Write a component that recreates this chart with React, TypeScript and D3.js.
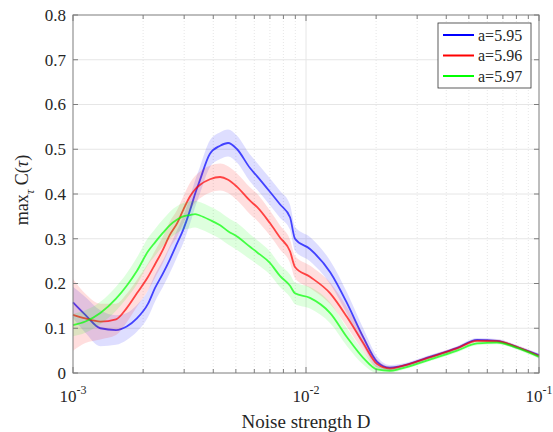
import React from "react";
import * as d3 from "d3";

// Noise strength D (x, log scale)
const noiseD = [
  0.001, 0.00113, 0.00131, 0.00153, 0.0017, 0.00188, 0.0021, 0.00225, 0.00243, 0.0026,
  0.0028, 0.00297, 0.00318, 0.00334, 0.0035, 0.00387, 0.00428, 0.00463, 0.00506, 0.00575,
  0.00616, 0.007, 0.00773, 0.00854, 0.00897, 0.0104, 0.0127, 0.015, 0.0176, 0.0202,
  0.0229, 0.0253, 0.034, 0.0445, 0.0542, 0.066, 0.0805, 0.1,
];

const blueVals = [
  0.158, 0.13, 0.1, 0.096, 0.104, 0.122, 0.155, 0.19, 0.222, 0.253,
  0.29, 0.32, 0.364, 0.4, 0.43, 0.49, 0.508, 0.514, 0.5, 0.458,
  0.44, 0.405, 0.377, 0.348, 0.3, 0.277, 0.225, 0.156, 0.08, 0.025,
  0.012, 0.015, 0.036, 0.056, 0.074, 0.072, 0.058, 0.04,
];
const blueErr = [
  0.035, 0.04, 0.04, 0.033, 0.03, 0.03, 0.03, 0.03, 0.03, 0.03,
  0.03, 0.03, 0.03, 0.03, 0.03, 0.03, 0.03, 0.03, 0.03, 0.03,
  0.03, 0.03, 0.03, 0.028, 0.027, 0.027, 0.026, 0.024, 0.02, 0.012,
  0.006, 0.005, 0.004, 0.004, 0.004, 0.004, 0.004, 0.004,
];

const redVals = [
  0.13, 0.122, 0.115, 0.12, 0.145, 0.178, 0.215, 0.243, 0.275, 0.308,
  0.335, 0.364, 0.395, 0.41, 0.42, 0.433, 0.438, 0.432, 0.416, 0.385,
  0.371, 0.335, 0.303, 0.272, 0.237, 0.215, 0.178, 0.125, 0.067, 0.02,
  0.01, 0.014, 0.035, 0.055, 0.072, 0.071, 0.058, 0.038,
];
const redErr = [
  0.08, 0.055, 0.04, 0.035, 0.032, 0.03, 0.03, 0.03, 0.03, 0.03,
  0.03, 0.03, 0.03, 0.03, 0.03, 0.03, 0.03, 0.03, 0.03, 0.03,
  0.03, 0.028, 0.027, 0.026, 0.025, 0.025, 0.024, 0.022, 0.018, 0.01,
  0.005, 0.004, 0.004, 0.004, 0.004, 0.004, 0.004, 0.004,
];

const greenVals = [
  0.107, 0.115, 0.134, 0.166, 0.195, 0.228, 0.272, 0.292, 0.313, 0.33,
  0.343, 0.35, 0.353, 0.355, 0.352, 0.342, 0.33, 0.317, 0.305, 0.282,
  0.27, 0.246, 0.217, 0.195, 0.178, 0.168, 0.134, 0.08, 0.034, 0.008,
  0.005, 0.009, 0.03, 0.05, 0.066, 0.068, 0.056, 0.036,
];
const greenErr = [
  0.025, 0.025, 0.025, 0.027, 0.028, 0.03, 0.03, 0.03, 0.03, 0.03,
  0.03, 0.03, 0.03, 0.03, 0.03, 0.03, 0.03, 0.03, 0.03, 0.028,
  0.027, 0.026, 0.025, 0.025, 0.024, 0.024, 0.023, 0.02, 0.015, 0.008,
  0.005, 0.004, 0.004, 0.004, 0.004, 0.004, 0.004, 0.004,
];

const seriesNames = ["a=5.95", "a=5.96", "a=5.97"];
const seriesColors = ["#0000ff", "#ff0000", "#00ff00"];
const yTicks = [0, 0.1, 0.2, 0.3, 0.4, 0.5, 0.6, 0.7, 0.8];
const xMajorTicks = [1e-3, 1e-2, 1e-1];
const xTickExps = ["-3", "-2", "-1"];

const W = 553;
const H = 432;
const M = { left: 73, right: 539, top: 15, bottom: 373 };
const FONT = '"Liberation Serif", "DejaVu Serif", "Times New Roman", serif';

export default function App() {
  const x = d3.scaleLog().domain([1e-3, 1e-1]).range([M.left, M.right]);
  const y = d3.scaleLinear().domain([0, 0.8]).range([M.bottom, M.top]);

  const minorTicks: number[] = [];
  [1e-3, 1e-2].forEach((dec) => {
    for (let k = 2; k <= 9; k++) minorTicks.push(dec * k);
  });

  const series = [
    { vals: blueVals, err: blueErr },
    { vals: redVals, err: redErr },
    { vals: greenVals, err: greenErr },
  ];

  const area = (vals: number[], err: number[]) =>
    d3
      .area<number>()
      .x((_, i) => x(noiseD[i]))
      .y0((_, i) => y(Math.max(0, vals[i] - err[i])))
      .y1((_, i) => y(vals[i] + err[i]))
      .curve(d3.curveMonotoneX)(vals) as string;

  const line = (vals: number[]) =>
    d3
      .line<number>()
      .x((_, i) => x(noiseD[i]))
      .y((v) => y(v))
      .curve(d3.curveMonotoneX)(vals) as string;

  const axisColor = "#7d7d7d";
  const textColor = "#262626";
  const tf = { fontFamily: FONT };

  return (
    <svg
      width={W}
      height={H}
      style={{ position: "absolute", left: 0, top: 0, background: "#fff", fontFamily: FONT }}
    >
      <rect x={0} y={0} width={W} height={H} fill="#fff" />
      {/* grid */}
      <g>
        {yTicks.slice(1, -1).map((t) => (
          <line key={"gy" + t} x1={M.left} x2={M.right} y1={y(t)} y2={y(t)} stroke="#e6e6e6" strokeWidth={1} />
        ))}
        {minorTicks.map((t) => (
          <line key={"gxm" + t} x1={x(t)} x2={x(t)} y1={M.top} y2={M.bottom} stroke="#e0e0e0" strokeWidth={0.8} strokeDasharray="1,2" />
        ))}
        <line x1={x(1e-2)} x2={x(1e-2)} y1={M.top} y2={M.bottom} stroke="#e6e6e6" strokeWidth={1} />
      </g>

      {/* bands and lines */}
      {series.map((s, i) => (
        <g key={"s" + i}>
          <path d={area(s.vals, s.err)} fill={seriesColors[i]} fillOpacity={0.13} stroke="none" />
          <path d={line(s.vals)} fill="none" stroke={seriesColors[i]} strokeOpacity={0.7} strokeWidth={1.8} />
        </g>
      ))}

      {/* axes box */}
      <rect x={M.left} y={M.top} width={M.right - M.left} height={M.bottom - M.top} fill="none" stroke={axisColor} strokeWidth={1} />
      {/* y ticks */}
      {yTicks.map((t) => (
        <g key={"yt" + t}>
          <line x1={M.left} x2={M.left + 5} y1={y(t)} y2={y(t)} stroke={axisColor} />
          <line x1={M.right} x2={M.right - 5} y1={y(t)} y2={y(t)} stroke={axisColor} />
          <text x={M.left - 7} y={y(t)} dy="0.35em" textAnchor="end" fontSize={17} fill={textColor} style={tf}>
            {t === 0 ? "0" : t.toFixed(1)}
          </text>
        </g>
      ))}
      {/* x ticks */}
      {minorTicks.map((t) => (
        <g key={"xm" + t}>
          <line x1={x(t)} x2={x(t)} y1={M.bottom} y2={M.bottom - 4} stroke={axisColor} />
          <line x1={x(t)} x2={x(t)} y1={M.top} y2={M.top + 4} stroke={axisColor} />
        </g>
      ))}
      {xMajorTicks.map((t, i) => (
        <g key={"xt" + t}>
          <line x1={x(t)} x2={x(t)} y1={M.bottom} y2={M.bottom - 6} stroke={axisColor} />
          <line x1={x(t)} x2={x(t)} y1={M.top} y2={M.top + 6} stroke={axisColor} />
          <text x={x(t)} y={402} textAnchor="middle" fontSize={17} fill={textColor} style={tf}>
            10
            <tspan fontSize={12} dy={-8}>{xTickExps[i]}</tspan>
          </text>
        </g>
      ))}

      {/* axis labels */}
      <text x={(M.left + M.right) / 2} y={428} textAnchor="middle" fontSize={19} fill={textColor} style={tf}>
        Noise strength D
      </text>
      <text transform="translate(28,190) rotate(-90)" textAnchor="middle" fontSize={18} fill={textColor} style={tf}>
        max
        <tspan fontSize={13} fontStyle="italic" dy={6}>τ</tspan>
        <tspan dy={-6}> C(</tspan>
        <tspan fontStyle="italic">τ</tspan>
        <tspan>)</tspan>
      </text>

      {/* legend */}
      <g>
        <rect x={438} y={23} width={93} height={65} fill="#fff" stroke="#333" strokeWidth={0.8} />
        {seriesNames.map((n, i) => (
          <g key={n}>
            <line x1={443} x2={474} y1={35 + i * 20.5} y2={35 + i * 20.5} stroke={seriesColors[i]} strokeWidth={2} />
            <text x={478} y={35 + i * 20.5} dy="0.35em" fontSize={16} fill={textColor} style={tf}>
              {n}
            </text>
          </g>
        ))}
      </g>
    </svg>
  );
}
